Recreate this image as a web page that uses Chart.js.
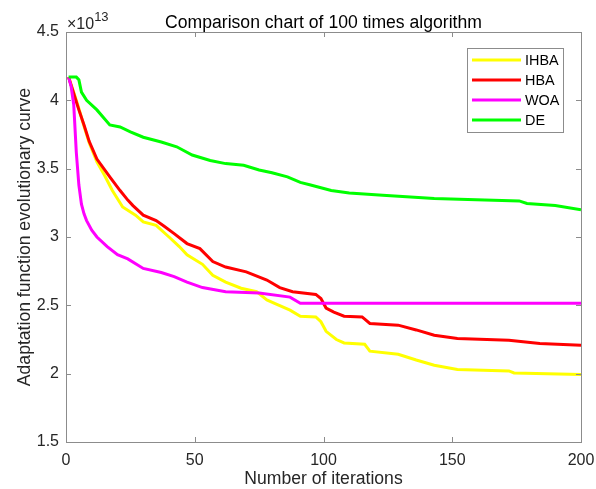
<!DOCTYPE html>
<html>
<head>
<meta charset="utf-8">
<script src="https://cdn.jsdelivr.net/npm/chart.js@4.4.0/dist/chart.umd.min.js"></script>
<style>
  html, body { margin: 0; padding: 0; background: #ffffff; }
</style>
</head>
<body>
<canvas id="grafico" width="596" height="489"></canvas>
<script>
// values are in units of 1e13 (the axis shows the x10^13 multiplier)
const tituloGrafico = 'Comparison chart of 100 times algorithm';
const tituloX = 'Number of iterations';
const tituloY = 'Adaptation function evolutionary curve';
const seriesNombres = ['IHBA', 'HBA', 'WOA', 'DE'];
const seriesColores = ['#ffff00', '#ff0000', '#ff00ff', '#00ff00'];

const xTicks = [0, 50, 100, 150, 200];
const yTicks = [1.5, 2, 2.5, 3, 3.5, 4, 4.5];

const ihbaIter = [1, 3, 5, 7, 9, 12, 15, 18, 22, 27, 30, 35, 40, 44, 47, 53, 57, 62, 68, 74, 78, 81, 87, 91, 97, 99, 101, 105, 108, 116, 118, 129, 136, 143, 152, 172, 174, 200];
const ihbaVal  = [4.17, 4.06, 3.94, 3.81, 3.69, 3.55, 3.45, 3.34, 3.22, 3.16, 3.11, 3.085, 3.0, 2.93, 2.87, 2.80, 2.72, 2.67, 2.625, 2.60, 2.54, 2.515, 2.465, 2.42, 2.415, 2.38, 2.31, 2.25, 2.225, 2.215, 2.165, 2.142, 2.10, 2.062, 2.03, 2.02, 2.005, 1.994];

const hbaIter = [1, 3, 5, 7, 9, 12, 17, 21, 24, 26, 30, 35, 38, 42, 47, 52, 57, 62, 70, 78, 83, 88, 97, 99, 101, 104, 108, 115, 118, 129, 136, 143, 152, 172, 184, 200];
const hbaVal  = [4.17, 4.05, 3.93, 3.82, 3.70, 3.57, 3.44, 3.34, 3.27, 3.23, 3.16, 3.12, 3.08, 3.025, 2.952, 2.915, 2.82, 2.78, 2.745, 2.685, 2.63, 2.60, 2.58, 2.55, 2.48, 2.45, 2.42, 2.415, 2.367, 2.355, 2.32, 2.281, 2.257, 2.245, 2.22, 2.208];

const woaIter = [1, 2, 3, 4, 5, 6, 7, 8, 10, 12, 16, 20, 24, 30, 37, 42, 47, 53, 62, 75, 87, 91, 200];
const woaVal  = [4.17, 4.10, 3.97, 3.62, 3.38, 3.24, 3.17, 3.12, 3.05, 3.0, 2.93, 2.87, 2.84, 2.77, 2.74, 2.71, 2.67, 2.63, 2.60, 2.59, 2.56, 2.515, 2.515];

const deIter = [1, 4, 5, 6, 8, 12, 17, 21, 25, 30, 37, 43, 49, 56, 62, 69, 75, 80, 86, 91, 95, 99, 103, 110, 123, 143, 156, 176, 179, 190, 200];
const deVal  = [4.17, 4.17, 4.15, 4.06, 4.0, 3.93, 3.82, 3.805, 3.77, 3.73, 3.695, 3.66, 3.60, 3.56, 3.537, 3.525, 3.49, 3.47, 3.44, 3.40, 3.38, 3.36, 3.34, 3.322, 3.305, 3.281, 3.274, 3.264, 3.245, 3.23, 3.20];

const iteraciones = [ihbaIter, hbaIter, woaIter, deIter];
const valores = [ihbaVal, hbaVal, woaVal, deVal];

const fuente = '"Liberation Sans", Arial, sans-serif';
const colorEje = '#8c8c8c';
const colorTexto = '#262626';

const ctx = document.getElementById('grafico').getContext('2d');

// box, inward ticks, titles and the legend inside the plot
const marcoPlugin = {
  id: 'marco',
  afterDatasetsDraw(chart) {
    const c = chart.ctx;
    const a = chart.chartArea;
    const sx = chart.scales.x, sy = chart.scales.y;
    c.save();
    c.strokeStyle = colorEje;
    c.lineWidth = 1;
    c.strokeRect(Math.round(a.left) + 0.5, Math.round(a.top) + 0.5,
      Math.round(a.right - a.left), Math.round(a.bottom - a.top));
    c.beginPath();
    xTicks.forEach(t => {
      const px = Math.round(sx.getPixelForValue(t)) + 0.5;
      c.moveTo(px, a.bottom); c.lineTo(px, a.bottom - 5);
      c.moveTo(px, a.top); c.lineTo(px, a.top + 5);
    });
    yTicks.forEach(t => {
      const py = Math.round(sy.getPixelForValue(t)) + 0.5;
      c.moveTo(a.left, py); c.lineTo(a.left + 5, py);
      c.moveTo(a.right, py); c.lineTo(a.right - 5, py);
    });
    c.stroke();
    c.restore();
  },
  afterDraw(chart) {
    const c = chart.ctx;
    const a = chart.chartArea;
    const cx = (a.left + a.right) / 2;
    c.save();
    c.fillStyle = '#000000';
    c.font = '17.6px ' + fuente;
    c.textAlign = 'center';
    c.textBaseline = 'alphabetic';
    c.fillText(tituloGrafico, cx, 28);

    // x10^13 multiplier
    c.fillStyle = colorTexto;
    c.textAlign = 'left';
    c.font = '16px ' + fuente;
    c.fillText('\u00d710', 67, 29);
    const w = c.measureText('\u00d710').width;
    c.font = '13px ' + fuente;
    c.fillText('13', 67 + w, 21);

    // axis titles
    c.font = '17.6px ' + fuente;
    c.textAlign = 'center';
    c.fillText(tituloX, cx, 484);
    c.translate(25, (a.top + a.bottom) / 2);
    c.rotate(-Math.PI / 2);
    c.textBaseline = 'middle';
    c.fillText(tituloY, 0, 0);
    c.restore();

    // legend
    c.save();
    c.fillStyle = '#ffffff';
    c.fillRect(468, 49, 96, 83);
    c.strokeStyle = '#8c8c8c';
    c.lineWidth = 1;
    c.strokeRect(467.5, 48.5, 96, 84);
    c.font = '14.4px ' + fuente;
    c.textAlign = 'left';
    c.textBaseline = 'middle';
    seriesNombres.forEach((n, i) => {
      const y = 60 + i * 20;
      c.strokeStyle = seriesColores[i];
      c.lineWidth = 3;
      c.beginPath();
      c.moveTo(472, y); c.lineTo(521, y);
      c.stroke();
      c.fillStyle = '#000000';
      c.fillText(n, 525, y + 1);
    });
    c.restore();
  }
};

window.miGrafico = new Chart(ctx, {
  type: 'line',
  data: {
    datasets: seriesNombres.map((n, i) => ({
      label: n,
      data: iteraciones[i].map((x, k) => ({ x: x, y: valores[i][k] })),
      borderColor: seriesColores[i],
      borderWidth: 3,
      pointRadius: 0,
      tension: 0,
      fill: false,
      order: seriesNombres.length - i
    }))
  },
  options: {
    responsive: false,
    animation: false,
    devicePixelRatio: 1,
    layout: { padding: { top: 32, right: 15, left: 0, bottom: 0 } },
    plugins: {
      legend: { display: false },
      title: { display: false },
      tooltip: { enabled: false }
    },
    scales: {
      x: {
        type: 'linear',
        min: 0,
        max: 200,
        afterFit: s => { s.height = 47; s.paddingLeft = 0; s.paddingRight = 0; },
        afterBuildTicks: s => { s.ticks = xTicks.map(v => ({ value: v })); },
        grid: { display: false, drawTicks: false },
        border: { display: false },
        ticks: {
          padding: 9,
          color: colorTexto,
          font: { family: fuente, size: 16 },
          maxRotation: 0
        }
      },
      y: {
        min: 1.5,
        max: 4.5,
        afterFit: s => { s.width = 66; s.paddingTop = 0; s.paddingBottom = 0; },
        afterBuildTicks: s => { s.ticks = yTicks.map(v => ({ value: v })); },
        grid: { display: false, drawTicks: false },
        border: { display: false },
        ticks: {
          padding: 7,
          color: colorTexto,
          font: { family: fuente, size: 16 },
          callback: v => String(v)
        }
      }
    }
  },
  plugins: [marcoPlugin]
});
</script>
</body>
</html>
